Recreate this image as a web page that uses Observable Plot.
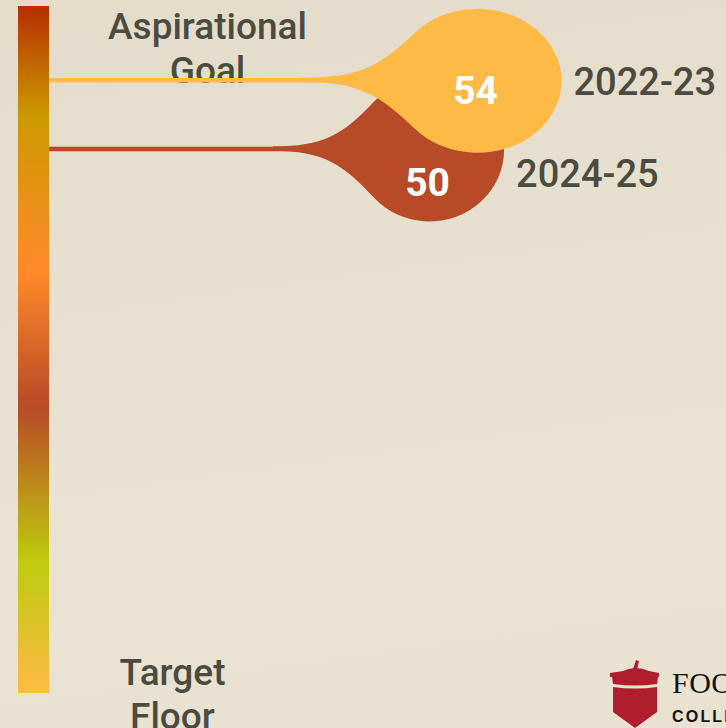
<!DOCTYPE html>
<html>
<head>
<meta charset="utf-8">
<script src="https://cdn.jsdelivr.net/npm/d3@7"></script>
<script src="https://cdn.jsdelivr.net/npm/@observablehq/plot@0.6"></script>
<style>
  html, body { margin: 0; padding: 0; width: 726px; height: 728px; overflow: hidden; }
  body {
    position: relative;
    background: linear-gradient(172deg, #e4dbc9 0%, #e8e0cf 35%, #eae3d3 70%, #e9e2d1 100%);
    font-family: Roboto, "Noto Sans", sans-serif;
  }
  #chart { position: absolute; left: 0; top: 0; }
  #logo { position: absolute; left: 606px; top: 656px; width: 160px; height: 80px; }
</style>
</head>
<body>
<div id="chart"></div>
<div id="logo">
  <svg width="160" height="80" viewBox="0 0 160 80">
    <g fill="#b01e2e">
      <path d="M27,13 L30,4 L33,5 L31,14 Z"/>
      <path d="M17,15 Q30,9 43,15 L53,17 L53,21 L4,21 L4,17 Z"/>
      <path d="M6,21 L52,21 L51,28 Q29,31 7,28 Z"/>
      <path d="M7,31 Q29,34 51,31 L51,56 L29,72 L7,56 Z"/>
    </g>
    <text x="66" y="37" font-family="'Liberation Serif', 'DejaVu Serif', serif" font-size="30" letter-spacing="0.5" fill="#111">FOOTHILL</text>
    <text x="66" y="66" font-family="'Liberation Sans', Arial, sans-serif" font-weight="700" font-size="16" letter-spacing="2.2" fill="#111">COLLEGE</text>
  </svg>
</div>
<script>
// ---- data ----
const years = ["2022-23", "2024-25"];
const scores = [54, 50];
const scaleEnds = ["Aspirational\nGoal", "Target\nFloor"];

// ---- styles ----
const seriesColors = ["#FDBA45", "#B84A27"];
const gradientStops = [
  [0.000, "#B52E00"],
  [0.159, "#CC9900"],
  [0.384, "#FF8A2A"],
  [0.584, "#B84A27"],
  [0.809, "#BFCB0E"],
  [1.000, "#FDBA45"]
];
const textColor = "#4b4b42";
const FONT = "Roboto, 'Noto Sans', sans-serif";

const data = years.map((year, i) => ({year, score: scores[i]}));
const yDomain = [18.3, 58.3];
const xDomain = [18.3, 74.7];
const sizeScale = d3.scaleLinear().domain([yDomain[0], 54]).range([0, 84]); // drop half-width
const DROP_RY = 72, LINE_W = 4.5, TAIL = 2.1, LABEL_GAP = 92;

function dropPath(cx, cy, rx, ry, ly, lw) {
  const th = 138 * Math.PI / 180;
  const ux = cx + rx * Math.cos(-th), uy = cy + ry * Math.sin(-th);
  const bx = cx + rx * Math.cos(th), by = cy + ry * Math.sin(th);
  let dux = -rx * Math.sin(-th), duy = ry * Math.cos(-th);
  let n = Math.hypot(dux, duy); dux /= n; duy /= n;
  let dbx = -rx * Math.sin(th), dby = ry * Math.cos(th);
  n = Math.hypot(dbx, dby); dbx /= n; dby /= n;
  const x0 = cx - TAIL * rx;
  const span = ux - x0;
  const k1 = 0.5 * span, k2 = 0.45 * span;
  const yt = ly - lw / 2, yb = ly + lw / 2;
  return `M${x0},${yt} C${x0 + k1},${yt} ${ux - k2 * dux},${uy - k2 * duy} ${ux},${uy}` +
         ` A${rx},${ry} 0 1 1 ${bx},${by}` +
         ` C${bx + k2 * dbx},${by + k2 * dby} ${x0 + k1},${yb} ${x0},${yb} Z`;
}

function scaleBar(index, scales, values, dims) {
  const g = d3.create("svg:g");
  const grad = g.append("defs").append("linearGradient")
    .attr("id", "scaleGrad").attr("x1", 0).attr("y1", 0).attr("x2", 0).attr("y2", 1);
  for (const [o, c] of gradientStops) grad.append("stop").attr("offset", o).attr("stop-color", c);
  const yTop = scales.y(yDomain[1]), yBot = scales.y(yDomain[0]);
  g.append("rect")
    .attr("x", dims.marginLeft - 31).attr("width", 31)
    .attr("y", yTop).attr("height", yBot - yTop)
    .attr("fill", "url(#scaleGrad)");
  return g.node();
}

function drops(index, scales, values, dims) {
  const {x, y, color} = scales;
  const g = d3.create("svg:g");
  const geo = data.map(d => {
    const ly = y(d.score);
    return {d, cx: x(d.score), cy: ly + 1, ly, rx: sizeScale(d.score), ry: DROP_RY};
  });
  // draw later entries underneath earlier ones
  for (const q of geo.slice().reverse()) {
    g.append("path")
      .attr("d", dropPath(q.cx, q.cy, q.rx, q.ry, q.ly, LINE_W))
      .attr("fill", color(q.d.year));
  }
  // labels, dodged so they stay readable
  let prevV = -Infinity, prevY = -Infinity;
  for (const q of geo) {
    const vy = Math.max(q.cy + 9, prevV + LABEL_GAP); prevV = vy;
    const yy = Math.max(q.cy + 1, prevY + LABEL_GAP); prevY = yy;
    g.append("text")
      .attr("x", q.cx - 2).attr("y", vy).attr("dy", "0.355em")
      .attr("text-anchor", "middle")
      .attr("font-family", FONT).attr("font-weight", 700).attr("font-size", 39)
      .attr("fill", "#ffffff")
      .text(q.d.score);
    g.append("text")
      .attr("x", q.cx + q.rx + 12).attr("y", yy).attr("dy", "0.355em")
      .attr("text-anchor", "start")
      .attr("font-family", FONT).attr("font-weight", 500).attr("font-size", 38)
      .attr("fill", textColor)
      .text(q.d.year);
  }
  return g.node();
}

const plot = Plot.plot({
  width: 726,
  height: 728,
  marginLeft: 49,
  marginRight: 0,
  marginTop: 6,
  marginBottom: 35,
  style: {background: "transparent", fontFamily: FONT, overflow: "visible"},
  x: {domain: xDomain, axis: null},
  y: {domain: yDomain, axis: null},
  color: {domain: years, range: seriesColors},
  marks: [
    scaleBar,
    Plot.text([scaleEnds[0]], {
      text: d => d, frameAnchor: "top-left", textAnchor: "middle", lineAnchor: "top",
      dx: 158, dy: 1, fontSize: 37, fontWeight: 500, lineHeight: 1.2, fill: textColor, fontFamily: FONT
    }),
    Plot.text([scaleEnds[1]], {
      text: d => d, frameAnchor: "bottom-left", textAnchor: "middle", lineAnchor: "top",
      dx: 123, dy: -40, fontSize: 37, fontWeight: 500, lineHeight: 1.2, fill: textColor, fontFamily: FONT
    }),
    Plot.ruleY(data, {y: "score", x1: () => xDomain[0], x2: "score", stroke: "year", strokeWidth: LINE_W}),
    drops
  ]
});
document.getElementById("chart").appendChild(plot);
</script>
</body>
</html>
